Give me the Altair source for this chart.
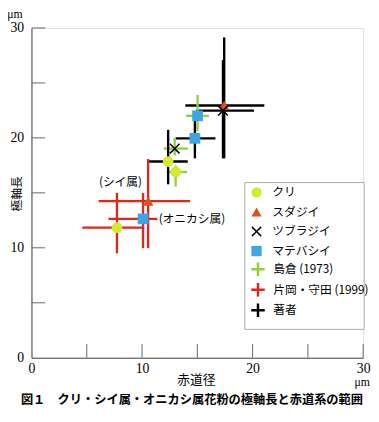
import altair as alt
import pandas as pd

# ---- data ----
species = ["クリ", "ツブラジイ", "マテバシイ",
           "クリ", "スダジイ", "マテバシイ",
           "クリ", "スダジイ", "ツブラジイ", "マテバシイ"]
source = ["島倉 (1973)"] * 3 + ["片岡・守田 (1999)"] * 3 + ["著者"] * 4
x_mean = [13.04, 12.95, 15.02, 7.73, 10.55, 10.09, 12.36, 17.43, 17.32, 14.78]
y_mean = [16.90, 19.03, 22.01, 11.83, 14.25, 12.63, 17.85, 22.95, 22.48, 19.96]
x_low = [12.21, 11.95, 13.98, 4.60, 6.08, 6.96, 10.53, 13.92, 14.87, 13.04]
x_high = [14.07, 14.15, 16.04, 10.20, 14.34, 11.39, 14.13, 21.06, 20.12, 16.64]
y_low = [15.58, 18.40, 20.60, 9.50, 9.97, 9.97, 15.78, 18.14, 18.14, 18.14]
y_high = [17.49, 20.00, 23.90, 15.00, 18.08, 14.98, 20.73, 29.14, 27.08, 22.06]

species_order = ["クリ", "スダジイ", "ツブラジイ", "マテバシイ"]
species_colors = ["#d4ea2c", "#d9531e", "#000000", "#3aa6e6"]
x_path = "M-1,-0.8L-0.8,-1L0,-0.2L0.8,-1L1,-0.8L0.2,0L1,0.8L0.8,1L0,0.2L-0.8,1L-1,0.8L-0.2,0Z"
species_shapes = ["circle", "triangle-up", x_path, "square"]
source_order = ["島倉 (1973)", "片岡・守田 (1999)", "著者"]
source_colors = ["#8fd13a", "#e0261c", "#000000"]

axis_ticks = [5, 10, 15, 20, 25, 30]
axis_labels = [0, 10, 20, 30]

note_shii = ["(シイ属)"]
note_shii_x = [8.05]
note_shii_y = [16.0]
note_oni = ["(オニカシ属)"]
note_oni_x = [11.5]
note_oni_y = [12.65]

df = pd.DataFrame({
    "species": species, "source": source,
    "x": x_mean, "y": y_mean,
    "xlo": x_low, "xhi": x_high, "ylo": y_low, "yhi": y_high,
})
ticks_df = pd.DataFrame({"t": axis_ticks})
shii_df = pd.DataFrame({"text": note_shii, "x": note_shii_x, "y": note_shii_y})
oni_df = pd.DataFrame({"text": note_oni, "x": note_oni_x, "y": note_oni_y})
one = pd.DataFrame({"a": [0]})

W, H = 339, 337
JP = "Noto Sans CJK JP"
SERIF = "Liberation Serif"

xscale = alt.Scale(domain=[0, 30], nice=False)
yscale = alt.Scale(domain=[0, 30], nice=False)

xaxis = alt.Axis(values=axis_labels, ticks=False, grid=False, title="赤道径",
                 labelFont=SERIF, labelFontSize=14, labelColor="#000",
                 labelPadding=4, labelFlush=False, domainColor="#444",
                 titleFont=JP, titleFontSize=13, titleFontWeight="normal",
                 titleX=168, titleY=22, titleBaseline="middle", titleColor="#000")
yaxis = alt.Axis(values=axis_labels, ticks=False, grid=False, title="極軸長",
                 labelFont=SERIF, labelFontSize=14, labelColor="#000",
                 labelPadding=8, labelFlush=False, domainColor="#444",
                 titleFont=JP, titleFontSize=12, titleFontWeight="normal",
                 titleX=-15, titleY=169, titleAngle=270, titleBaseline="middle",
                 titleAlign="center", titleColor="#000")

src_legend = alt.Legend(title=None, orient="none", legendX=223, legendY=238,
                        symbolType="M-1,0H1M0,-1V1", symbolSize=190,
                        symbolStrokeWidth=2.5, labelFont=JP, labelFontSize=12,
                        labelColor="#000", labelOffset=7, rowPadding=-5, padding=0)
sp_legend = alt.Legend(title=None, orient="none", legendX=224, legendY=162,
                       symbolSize=110, labelFont=JP, labelFontSize=12,
                       labelColor="#000", labelOffset=10, rowPadding=8, padding=0,
                       symbolStrokeWidth=0)

stroke_enc = alt.Stroke("source:N", scale=alt.Scale(domain=source_order, range=source_colors),
                        legend=src_legend)

base = alt.Chart(df)

hbars = base.mark_rule(strokeWidth=2.4).encode(
    x=alt.X("xlo:Q", scale=xscale, axis=xaxis),
    x2="xhi:Q",
    y=alt.Y("y:Q", scale=yscale, axis=yaxis),
    stroke=stroke_enc,
)
vbars = base.mark_rule(strokeWidth=2.4).encode(
    x=alt.X("x:Q", scale=xscale),
    y=alt.Y("ylo:Q", scale=yscale),
    y2="yhi:Q",
    stroke=stroke_enc,
)
points = base.mark_point(filled=True, opacity=1, size=120).encode(
    x=alt.X("x:Q", scale=xscale),
    y=alt.Y("y:Q", scale=yscale),
    shape=alt.Shape("species:N", scale=alt.Scale(domain=species_order, range=species_shapes),
                    legend=sp_legend),
    fill=alt.Fill("species:N", scale=alt.Scale(domain=species_order, range=species_colors),
                  legend=sp_legend),
)

yticks = alt.Chart(ticks_df).mark_rule(color="#666", strokeWidth=1).encode(
    y=alt.Y("t:Q", scale=yscale), x=alt.value(0), x2=alt.value(14))
xticks = alt.Chart(ticks_df).mark_rule(color="#666", strokeWidth=1).encode(
    x=alt.X("t:Q", scale=xscale), y=alt.value(H - 14), y2=alt.value(H))

shii_mark = alt.Chart(shii_df).mark_text(font=JP, fontSize=12, color="#000",
                                          baseline="middle", align="center").encode(
    x=alt.X("x:Q", scale=xscale), y=alt.Y("y:Q", scale=yscale), text="text:N")
oni_mark = alt.Chart(oni_df).mark_text(font=JP, fontSize=12, color="#000",
                                        baseline="middle", align="left").encode(
    x=alt.X("x:Q", scale=xscale), y=alt.Y("y:Q", scale=yscale), text="text:N")

box = alt.Chart(one).mark_rect(fill="white", stroke="#aaaaaa", strokeWidth=1).encode(
    x=alt.value(218), x2=alt.value(340), y=alt.value(158), y2=alt.value(308))

unit_top = alt.Chart(one).mark_text(font=SERIF, fontSize=12, color="#000",
                                     baseline="alphabetic").encode(
    x=alt.value(-17), y=alt.value(-10), text=alt.value("μm"))
unit_right = alt.Chart(one).mark_text(font=SERIF, fontSize=12, color="#000").encode(
    x=alt.value(338), y=alt.value(H + 25), text=alt.value("μm"))
caption = alt.Chart(one).mark_text(font=JP, fontSize=12.5, fontWeight="bold", color="#000").encode(
    x=alt.value(164), y=alt.value(H + 43),
    text=alt.value("図１　クリ・シイ属・オニカシ属花粉の極軸長と赤道系の範囲"))

chart = alt.layer(
    box, yticks, xticks, hbars, vbars, points, shii_mark, oni_mark,
    unit_top, unit_right, caption
).properties(
    width=W, height=H,
    autosize=alt.AutoSizeParams(type="none"),
    padding={"left": 24, "top": 16, "right": 8, "bottom": 49},
).configure_view(stroke=None).configure(background="white")

chart.save("out.html", embed_options={"renderer": "svg", "actions": False})
